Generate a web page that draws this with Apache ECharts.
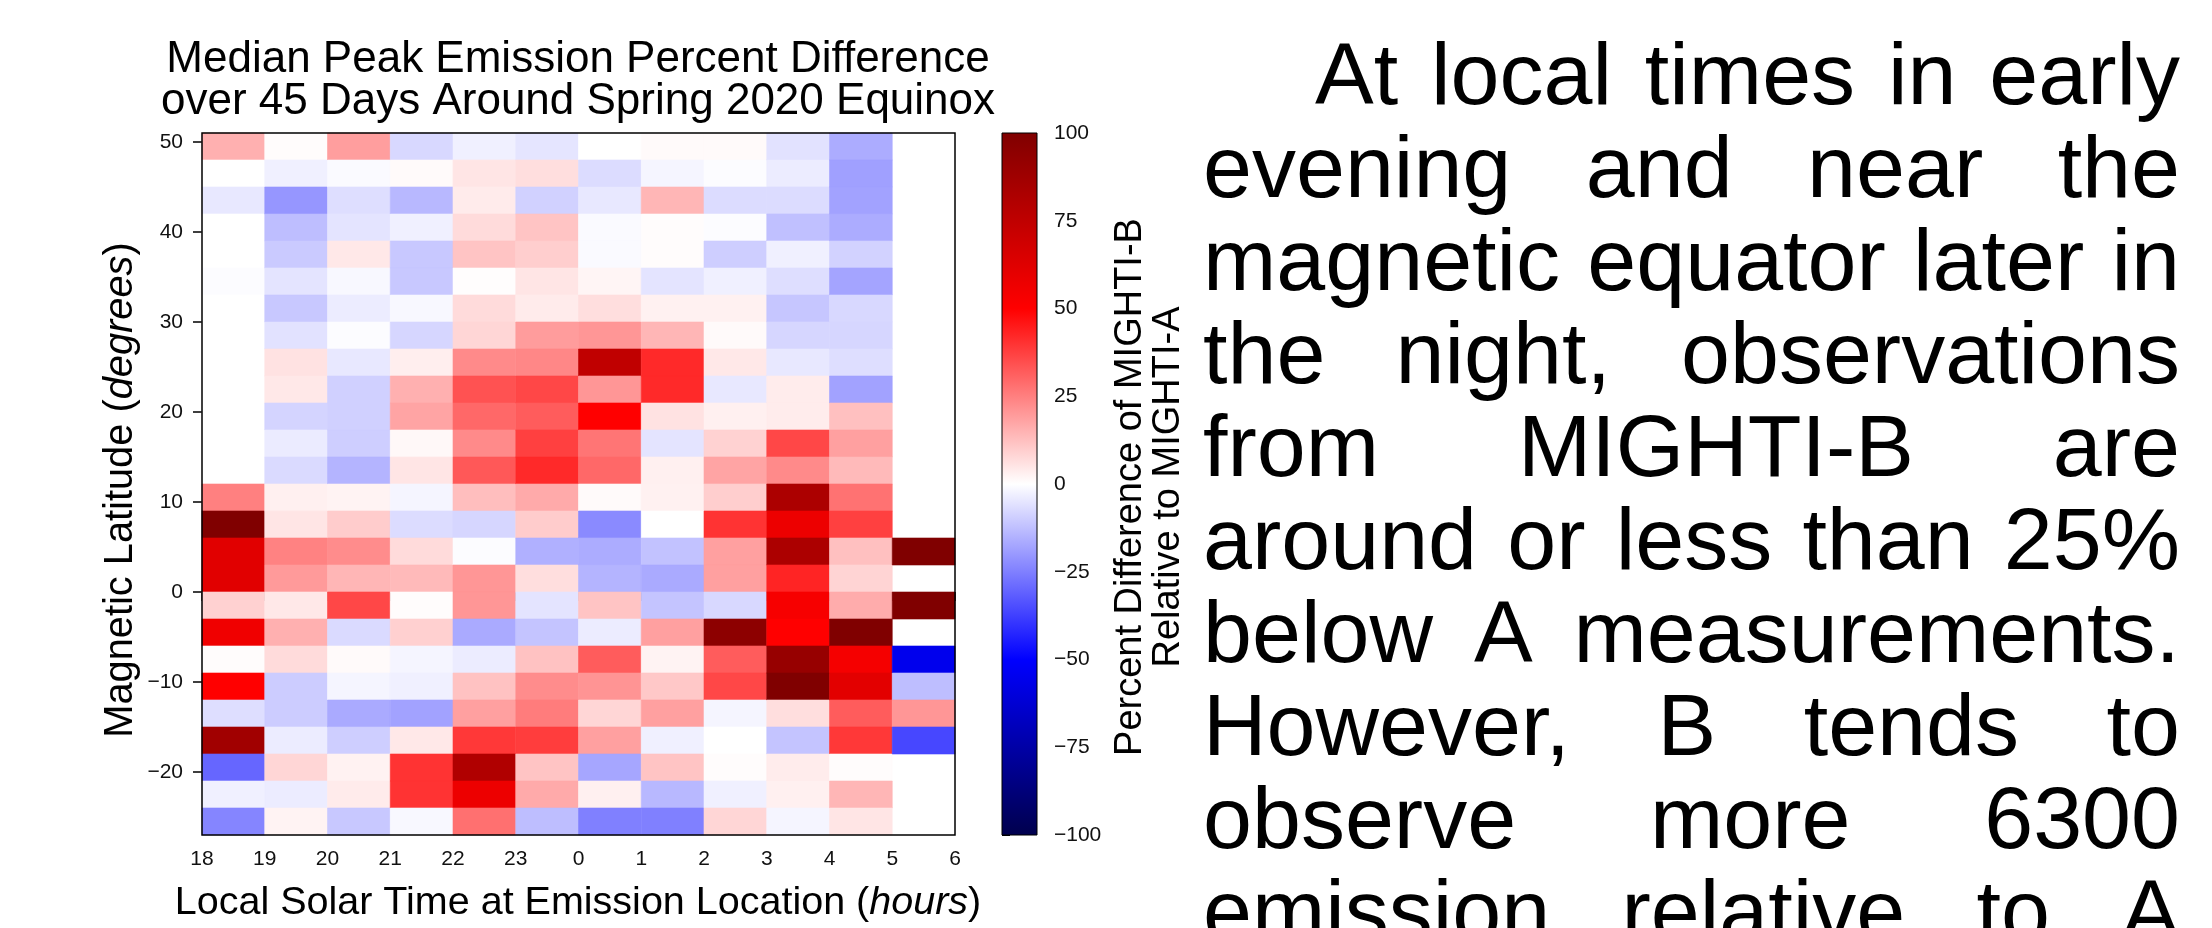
<!DOCTYPE html>
<html>
<head>
<meta charset="utf-8">
<title>Median Peak Emission Percent Difference</title>
<script src="https://cdn.jsdelivr.net/npm/echarts@6.0.0/dist/echarts.min.js"></script>
<style>
  html, body { margin: 0; padding: 0; background: #fff; }
  #chart { width: 2212px; height: 928px; }
</style>
</head>
<body>
<div id="chart"></div>
<script>
// local solar time bins (start hour, 24+ = after midnight) and magnetic latitude bins (lower edge, top to bottom)
const hourStarts = [18, 19, 20, 21, 22, 23, 24, 25, 26, 27, 28, 29];
const hourStep = 1;
const latBottoms = [48, 45, 42, 39, 36, 33, 30, 27, 24, 21, 18, 15, 12, 9, 6, 3, 0, -3, -6, -9, -12, -15, -18, -21, -24, -27];
const latStep = 3;
const latTicks = [-20, -10, 0, 10, 20, 30, 40, 50];

// median percent difference per hour column, rows top (48..51) to bottom (-27..-24), null = no data
const pd18 = [15.5, 0, -4.5, 0, 0, -0.5, 0, 0, 0, 0, 0, 0, 0, 25, 100, 62, 62, 9, 56, 0.5, 50, -6.5, 87, -30, -3, -24];
const pd19 = [0.5, -3, -20.6, -12.7, -10.4, -5.3, -10.8, -5.7, 5.7, 4.5, -8.4, -4, -7.2, 3, 5, 24.5, 19.8, 4.5, 15.5, 7, -10, -10, -3.7, 8, -3.7, 2.3];
const pd20 = [19, -1, -6.5, -5.3, 4.5, -1.4, -3.7, -0.6, -4.5, -9.2, -9.2, -9.6, -14.7, 2.3, 10, 22.5, 14.3, 36, -7.3, 1, -2, -16.7, -9.6, 2.5, 4, -10.8];
const pd21 = [-7.6, 1, -14, -3, -10.8, -10.8, -1.4, -8, 3.3, 15.5, 17.8, 1.4, 5, -2, -6.9, 7, 13.5, 0.5, 9.2, -2, -3, -18.2, 4.5, 40, 40, -1.4];
const pd22 = [-3, 5, 4, 7, 11.5, 0.3, 7, 8, 23, 34, 29.6, 23, 32.7, 12.7, -8, -0.5, 20.6, 20.6, -16.7, -3.7, 12, 18.6, 39, 81, 57, 28];
const pd23 = [-5, 6.5, -9, 11.5, 9.6, 5, 4, 19.4, 23.5, 36, 32, 37.5, 42, 16.7, 10, -15.5, 6.5, -5.3, -11.6, 12, 22.5, 25.7, 38, 11.6, 16.7, -12.7];
const pd00 = [0, -6.9, -4.5, -1, -1, 2, 6.5, 20.6, 75, 20.6, 50, 27, 29.6, 1, -23, -16.3, -14.7, 11.6, -3.7, 32, 21, 8, 18.6, -17.5, 3, -25];
const pd01 = [1, -2, 14.3, 0.5, 0.5, -5.3, 2.7, 14.3, 42, 42, 5.7, -5.3, 3, 2.7, 0, -12, -16.7, -11.6, 18.6, 2.3, 10.8, 18.6, -3, 11.6, -14, -25];
const pd02 = [1, -0.5, -6.9, -0.5, -9.6, -3, 2.7, 1, 4.5, -4.5, 3, 8.8, 17.8, 9.6, 40, 18.6, 18.6, -7.6, 95, 32, 36, -2, 0, 0.5, -3, 8];
const pd03 = [-5.7, -3.7, -6.9, -12.4, -3, -6.5, -11.2, -8, -4.5, 3.7, 3.7, 36, 23, 82.5, 57, 82.5, 43, 53, 50, 91, 100, 6.5, -11.6, 3.7, 3, -2];
const pd04 = [-16.3, -18.6, -18.2, -16.3, -8.8, -17.8, -7.6, -8, -6.5, -18.2, 12.4, 18.6, 13.5, 27.6, 37.5, 12.4, 8.4, 16.3, 100, 54, 61, 32, 39, 0.5, 14.3, 5];
const pd05 = [null, null, null, null, null, null, null, null, null, null, null, null, null, null, null, 100, null, 100, null, -55, -12.7, 20.6, -36, null, null, null];
const columns = [pd18, pd19, pd20, pd21, pd22, pd23, pd00, pd01, pd02, pd03, pd04, pd05];

// colour scale (matplotlib "seismic")
const cbarValues = [-100, -50, 0, 50, 100];
const cbarColors = ['#00004d', '#0000ff', '#ffffff', '#ff0000', '#800000'];

const titleLines = ['Median Peak Emission Percent Difference', 'over 45 Days Around Spring 2020 Equinox'];
const cbarNameLines = ['Percent Difference of MIGHTI-B', 'Relative to MIGHTI-A'];
const paraLines = [
  'At local times in early',
  'evening and near the',
  'magnetic equator later in',
  'the night, observations',
  'from MIGHTI-B are',
  'around or less than 25%',
  'below A measurements.',
  'However, B tends to',
  'observe more 6300',
  'emission relative to A'
];

const FONT = '"Liberation Sans", Arial, Helvetica, sans-serif';
const minus = v => (v < 0 ? '\u2212' + Math.abs(v) : String(v));

let cellData = [];
hourStarts.forEach((h, c) => {
  columns[c].forEach((v, r) => {
    if (v !== null) cellData.push([h, latBottoms[r], v]);
  });
});

// justified paragraph on the right
const PARA_SIZE = 88;
const paraLeft = 1203, paraIndent = 1315, paraRight = 2180, paraTop = 80, paraLead = 93;
const ctx = document.createElement('canvas').getContext('2d');
ctx.font = PARA_SIZE + 'px ' + FONT;
let paraElems = [];
paraLines.forEach((line, i) => {
  let words = line.split(' ');
  let left = i === 0 ? paraIndent : paraLeft;
  let widths = words.map(w => ctx.measureText(w).width);
  let total = widths.reduce((a, b) => a + b, 0);
  let gap = words.length > 1 ? (paraRight - left - total) / (words.length - 1) : 0;
  let x = left;
  words.forEach((w, j) => {
    paraElems.push({
      type: 'text', x: x, y: paraTop + i * paraLead,
      style: { text: w, fill: '#000', fontSize: PARA_SIZE, fontFamily: FONT,
        textAlign: 'left', align: 'left', textVerticalAlign: 'middle', verticalAlign: 'middle' }
    });
    x += widths[j] + gap;
  });
});

function label (text, x, y, size, rot, rich) {
  return {
    type: 'text', x: x, y: y, rotation: rot || 0,
    style: { text: text, fill: '#000', fontSize: size, fontFamily: FONT, rich: rich,
      textAlign: 'center', align: 'center', textVerticalAlign: 'middle', verticalAlign: 'middle' }
  };
}
const italic = size => ({ i: { fontStyle: 'italic', fontSize: size, fontFamily: FONT, fill: '#000' } });

let myChart = echarts.init(document.getElementById('chart'));
let option = {
  backgroundColor: '#fff',
  animation: false,
  grid: [
    { left: 202, top: 133, width: 753, height: 702, show: true, z: 10,
      backgroundColor: 'transparent', borderColor: '#000', borderWidth: 1.5 },
    { left: 1002, top: 133, width: 35, height: 702, show: true, z: 10,
      backgroundColor: 'transparent', borderColor: '#000', borderWidth: 1 }
  ],
  xAxis: [
    {
      type: 'value', gridIndex: 0, min: 18, max: 30, interval: hourStep,
      axisLine: { show: false },
      axisTick: { show: true, length: 9, lineStyle: { color: '#000', width: 1.5 } },
      axisLabel: { margin: 14, fontSize: 21, color: '#111', fontFamily: FONT,
        formatter: v => String(v >= 24 ? v - 24 : v) },
      splitLine: { show: false }
    },
    { type: 'value', gridIndex: 1, min: 0, max: 1, show: false }
  ],
  yAxis: [
    {
      type: 'value', gridIndex: 0, min: -27, max: 51,
      axisLine: { show: false },
      axisTick: { show: true, length: 9, customValues: latTicks, lineStyle: { color: '#000', width: 1.5 } },
      axisLabel: { margin: 19, fontSize: 21, color: '#111', fontFamily: FONT,
        customValues: latTicks, formatter: minus },
      splitLine: { show: false }
    },
    {
      type: 'value', gridIndex: 1, min: -100, max: 100, interval: 25, position: 'right',
      axisLine: { show: false },
      axisTick: { show: true, length: 8, lineStyle: { color: '#000', width: 1 } },
      axisLabel: { margin: 17, fontSize: 21, color: '#111', fontFamily: FONT, formatter: minus },
      splitLine: { show: false }
    }
  ],
  visualMap: {
    type: 'continuous', show: false, seriesIndex: 0, dimension: 2,
    min: cbarValues[0], max: cbarValues[cbarValues.length - 1],
    inRange: { color: cbarColors }
  },
  series: [
    {
      type: 'custom', xAxisIndex: 0, yAxisIndex: 0, data: cellData,
      encode: { x: 0, y: 1 },
      renderItem (params, api) {
        let p0 = api.coord([api.value(0), api.value(1) + latStep]);
        let p1 = api.coord([api.value(0) + hourStep, api.value(1)]);
        let c = api.visual('color');
        return {
          type: 'rect',
          shape: { x: p0[0], y: p0[1], width: p1[0] - p0[0], height: p1[1] - p0[1] },
          style: { fill: c, stroke: c, lineWidth: 0.6 }
        };
      }
    },
    {
      type: 'custom', xAxisIndex: 1, yAxisIndex: 1, silent: true,
      data: [[0, cbarValues[0], cbarValues[cbarValues.length - 1]]],
      renderItem (params, api) {
        let p0 = api.coord([0, api.value(2)]);
        let p1 = api.coord([1, api.value(1)]);
        let stops = cbarColors.map((c, i) => ({ offset: 1 - i / (cbarColors.length - 1), color: c }));
        stops.reverse();
        return {
          type: 'rect',
          shape: { x: p0[0], y: p0[1], width: p1[0] - p0[0], height: p1[1] - p0[1] },
          style: { fill: new echarts.graphic.LinearGradient(0, 0, 0, 1, stops) }
        };
      }
    }
  ],
  graphic: [
    label(titleLines[0], 578, 60, 44),
    label(titleLines[1], 578, 102, 44),
    label('Local Solar Time at Emission Location ({i|hours})', 578, 903, 39.5, 0, italic(39.5)),
    label('Magnetic Latitude ({i|degrees})', 121, 490, 39.8, Math.PI / 2, italic(39.8)),
    label(cbarNameLines[0], 1131, 487, 38, Math.PI / 2),
    label(cbarNameLines[1], 1169, 487, 38, Math.PI / 2)
  ].concat(paraElems)
};
myChart.setOption(option);
</script>
</body>
</html>
